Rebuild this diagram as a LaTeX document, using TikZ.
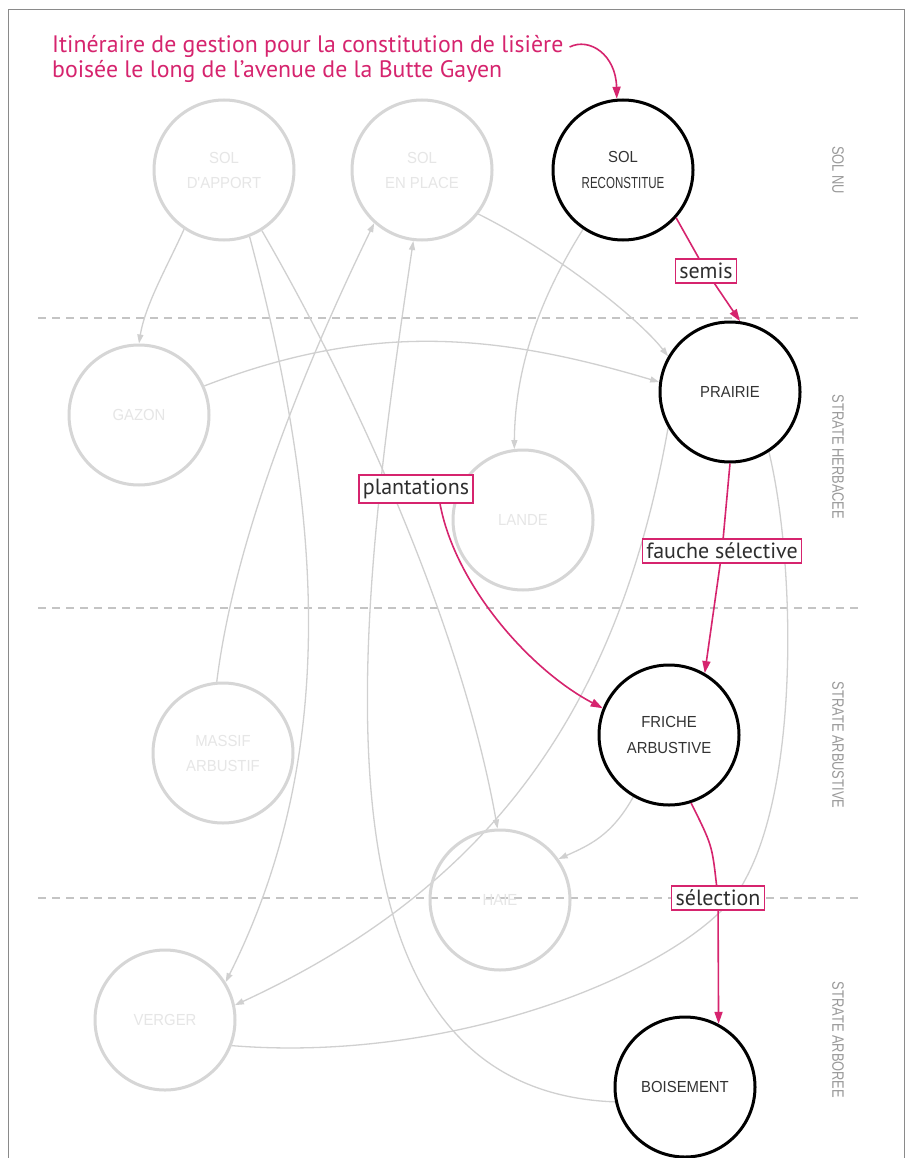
\documentclass[tikz,border=0pt]{standalone}
\usepackage{fontspec}
\setmainfont{PT Sans}
\newfontfamily\circfont[FakeStretch=0.93]{Liberation Sans}
\newfontfamily\circnarrow[FakeStretch=0.72]{Liberation Sans}
\newfontfamily\sidefont[FakeStretch=0.78]{Liberation Sans}
\usetikzlibrary{arrows.meta}
\pgfdeclarelayer{background}
\pgfsetlayers{background,main}
\definecolor{pinkc}{HTML}{D6246E}
\definecolor{gline}{HTML}{D0D0D0}
\definecolor{gcirc}{HTML}{D6D6D6}
\definecolor{gtext}{HTML}{E6E6E6}
\definecolor{sidec}{HTML}{9A9A9A}
\definecolor{dashc}{HTML}{C4C4C4}
\definecolor{labtext}{HTML}{2E2E2E}
\definecolor{framec}{HTML}{8A8A8A}
\begin{document}
\begin{tikzpicture}[x=1pt,y=-1pt,
  faint/.style={circle,draw=gcirc,line width=3pt,minimum size=140pt,inner sep=0pt,align=center,text=gtext,font=\circfont\fontsize{16}{25}\selectfont},
  bold/.style={circle,draw=black,line width=3pt,minimum size=140pt,inner sep=0pt,align=center,text=black!80,font=\circfont\fontsize{16}{26}\selectfont},
  glink/.style={draw=gline,line width=1.3pt,-{Triangle[length=9pt,width=6pt]}},
  glinkplain/.style={draw=gline,line width=1.3pt},
  plink/.style={draw=pinkc,line width=1.6pt},
  parrow/.style={plink,-{Triangle[length=12pt,width=8pt]}},
  lab/.style={draw=pinkc,line width=1.4pt,fill=white,text=labtext,font=\fontsize{22}{22}\selectfont,inner xsep=4pt,inner ysep=4pt},
  side/.style={rotate=-90,text=sidec,font=\sidefont\fontsize{16.5}{16}\selectfont},
  sep/.style={draw=dashc,line width=1.2pt,dash pattern=on 8pt off 6pt}
]
\useasboundingbox (0,0) rectangle (909,1158);
\begin{pgfonlayer}{background}
\fill[white] (0,0) rectangle (909,1158);
\end{pgfonlayer}
\draw[draw=framec,line width=1pt] (8,1158) -- (8,10) -- (904,10) -- (904,1158);

% title
\node[anchor=west,text=pinkc,align=left,inner sep=0pt,font=\fontsize{23.8}{25}\selectfont] (title) at (52,59)
  {Itinéraire de gestion pour la constitution de lisière\\boisée le long de l'avenue de la Butte Gayen};
\coordinate (tstart) at ([xshift=6pt,yshift=12pt]title.east);

% states
\node[faint] (SOLAPP) at (224,170) {SOL\\D'APPORT};
\node[faint] (SOLPL) at (422,170) {SOL\\EN PLACE};
\node[bold] (SOLREC) at (623,170) {SOL\\{\circnarrow RECONSTITUE}};
\node[faint] (GAZON) at (139,415) {GAZON};
\node[bold] (PRAIRIE) at (730,392) {PRAIRIE};
\node[faint] (LANDE) at (523,520) {LANDE};
\node[faint] (MASSIF) at (223,753) {MASSIF\\ARBUSTIF};
\node[bold] (FRICHE) at (669,735) {FRICHE\\ARBUSTIVE};
\node[faint] (HAIE) at (500,900) {HAIE};
\node[faint] (VERGER) at (165,1020) {VERGER};
\node[bold] (BOIS) at (685,1087) {BOISEMENT};

% side labels
\node[side] (s1) at (838,170) {SOL NU};
\node[side] (s2) at (838,457) {STRATE HERBACEE};
\node[side] (s3) at (838,745) {STRATE ARBUSTIVE};
\node[side] (s4) at (838,1040) {STRATE ARBOREE};

% action labels
\node[lab] (semis) at (706,271) {semis};
\node[lab] (plant) at (416,489) {plantations};
\node[lab] (fauche) at (722,551) {fauche sélective};
\node[lab] (selec) at (718,898) {sélection};

\begin{pgfonlayer}{background}
\draw[sep] (38,318) -- (860,318);
\draw[sep] (38,608) -- (860,608);
\draw[sep] (38,898) -- (860,898);
\draw[glink] (SOLAPP.236) .. controls (168,265) and (145,305) .. (GAZON.90);
\draw[glink] (SOLAPP.291) .. controls (321,505) and (342,750) .. (VERGER.32);
\draw[glink] (SOLAPP.302) .. controls (361,402) and (463,633) .. (HAIE.92);
\draw[glink] (MASSIF.95) .. controls (235,534) and (309,357) .. (SOLPL.228);
\draw[glink] (BOIS.192) .. controls (290,1090) and (360,600) .. (SOLPL.263);
\draw[glink] (SOLPL.-38) .. controls (560,255) and (640,320) .. (PRAIRIE.150);
\draw[glink] (GAZON.24) .. controls (370,322) and (495,333) .. (PRAIRIE.172);
\draw[glink] (SOLREC.236) .. controls (545,290) and (515,360) .. (LANDE.97);
\draw[glink] (PRAIRIE.210) .. controls (619,706) and (493,886) .. (VERGER.12);
\draw[glinkplain] (PRAIRIE.-57) .. controls (795,560) and (800,780) .. (745,880) .. controls (705,960) and (470,1065) .. (VERGER.-21);
\draw[glink] (FRICHE.240) .. controls (612,835) and (590,845) .. (HAIE.35);
\end{pgfonlayer}

% pink path
\draw[parrow] (tstart) .. controls +(20,-10) and (616,55) .. (SOLREC.95);
\draw[plink] (SOLREC.-42) -- (semis);
\draw[parrow] (semis) -- (PRAIRIE.82);
\draw[plink] (PRAIRIE.-90) -- (fauche);
\draw[parrow] (fauche) -- (FRICHE.60);
\coordinate (pstart) at ([xshift=24pt]plant.south);
\draw[parrow] (pstart) .. controls (455,585) and (530,670) .. (FRICHE.158);
\draw[plink] (FRICHE.-72) .. controls (712,845) .. (selec);
\draw[parrow] (selec) -- (BOIS.62);
\end{tikzpicture}
\end{document}
